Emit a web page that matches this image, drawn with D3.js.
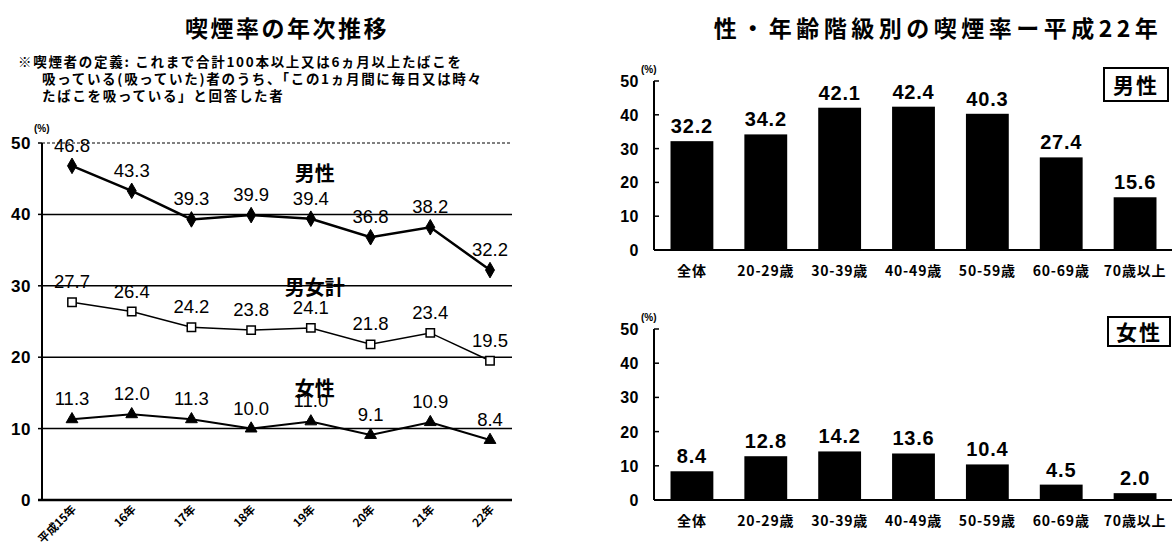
<!DOCTYPE html>
<html>
<head>
<meta charset="utf-8">
<script src="https://cdn.jsdelivr.net/npm/d3@7"></script>
<style>
  body { margin: 0; background: #fff; }
  svg { display: block; font-family: "Noto Sans CJK JP", "Liberation Sans", sans-serif; }
  .num { font-family: "Liberation Sans", Arial, sans-serif; }
</style>
</head>
<body>
<svg id="chart" width="1172" height="552"></svg>
<script>
// ---- data ----
const years = ["平成15年", "16年", "17年", "18年", "19年", "20年", "21年", "22年"];
const male = [46.8, 43.3, 39.3, 39.9, 39.4, 36.8, 38.2, 32.2];
const total = [27.7, 26.4, 24.2, 23.8, 24.1, 21.8, 23.4, 19.5];
const female = [11.3, 12.0, 11.3, 10.0, 11.0, 9.1, 10.9, 8.4];
const ageGroups = ["全体", "20-29歳", "30-39歳", "40-49歳", "50-59歳", "60-69歳", "70歳以上"];
const maleByAge = [32.2, 34.2, 42.1, 42.4, 40.3, 27.4, 15.6];
const femaleByAge = [8.4, 12.8, 14.2, 13.6, 10.4, 4.5, 2.0];
const yTicks = [0, 10, 20, 30, 40, 50];

const svg = d3.select("#chart");

// ---- left: trend chart ----
const xL = d3.scalePoint().domain(years).range([72, 490]);
const yL = d3.scaleLinear().domain([0, 50]).range([500, 143]);
const leftX0 = 42, leftX1 = 512;

svg.append("text")
    .attr("x", 287).attr("y", 37)
    .attr("text-anchor", "middle")
    .attr("font-size", 23).attr("font-weight", "bold")
    .attr("letter-spacing", 2.5)
    .text("喫煙率の年次推移");

const note = [
    { x: 18, y: 67, t: "※喫煙者の定義: これまで合計100本以上又は6ヵ月以上たばこを" },
    { x: 42, y: 84, t: "吸っている(吸っていた)者のうち、「この1ヵ月間に毎日又は時々" },
    { x: 42, y: 101, t: "たばこを吸っている」と回答した者" }
];
note.forEach(n => {
    svg.append("text")
        .attr("x", n.x).attr("y", n.y)
        .attr("font-size", 13.5).attr("font-weight", "bold")
        .attr("letter-spacing", 1.7)
        .text(n.t);
});

// grid lines
yTicks.filter(d => d > 0 && d < 50).forEach(d => {
    svg.append("line")
        .attr("x1", leftX0).attr("x2", leftX1)
        .attr("y1", yL(d)).attr("y2", yL(d))
        .attr("stroke", "#000").attr("stroke-width", 1.5);
});
svg.append("line")
    .attr("x1", leftX0).attr("x2", leftX1)
    .attr("y1", yL(50)).attr("y2", yL(50))
    .attr("stroke", "#000").attr("stroke-width", 1)
    .attr("stroke-dasharray", "3,2");

// axes
svg.append("line")
    .attr("x1", leftX0).attr("x2", leftX0)
    .attr("y1", yL(50)).attr("y2", yL(0))
    .attr("stroke", "#000").attr("stroke-width", 2);
svg.append("line")
    .attr("x1", leftX0 - 4).attr("x2", leftX1)
    .attr("y1", yL(0)).attr("y2", yL(0))
    .attr("stroke", "#000").attr("stroke-width", 2.5);

yTicks.forEach(d => {
    svg.append("line")
        .attr("x1", leftX0 - 4).attr("x2", leftX0)
        .attr("y1", yL(d)).attr("y2", yL(d))
        .attr("stroke", "#000").attr("stroke-width", 1.5);
    svg.append("text")
        .attr("class", "num")
        .attr("x", 31).attr("y", yL(d) + 6)
        .attr("text-anchor", "end")
        .attr("font-size", 17).attr("font-weight", "bold")
        .attr("letter-spacing", 0.5)
        .text(d);
});
svg.append("text")
    .attr("class", "num")
    .attr("x", 34).attr("y", 132)
    .attr("font-size", 10).attr("font-weight", "bold")
    .text("(%)");

// x labels, rotated
years.forEach(d => {
    svg.append("text")
        .attr("transform", `translate(${xL(d) + 5},${yL(0) + 10}) rotate(-45)`)
        .attr("text-anchor", "end")
        .attr("font-size", 11.5).attr("font-weight", "bold")
        .text(d);
});

const series = [
    { name: "男性", values: male, width: 2.5, marker: "diamond", labelY: 44.7 },
    { name: "男女計", values: total, width: 1.5, marker: "square", labelY: 28.7 },
    { name: "女性", values: female, width: 2, marker: "triangle", labelY: 14.6 }
];

series.forEach(s => {
    const line = d3.line()
        .x((d, i) => xL(years[i]))
        .y(d => yL(d));
    svg.append("path")
        .datum(s.values)
        .attr("d", line)
        .attr("fill", "none")
        .attr("stroke", "#000")
        .attr("stroke-width", s.width);

    const sym = s.marker === "diamond" ? d3.symbolDiamond
        : s.marker === "square" ? d3.symbolSquare : d3.symbolTriangle;
    const size = s.marker === "triangle" ? 60 : 70;

    svg.append("g").selectAll("path")
        .data(s.values)
        .join("path")
        .attr("transform", (d, i) => `translate(${xL(years[i])},${yL(d)})`)
        .attr("d", d3.symbol().type(sym).size(size))
        .attr("fill", s.marker === "square" ? "#fff" : "#000")
        .attr("stroke", "#000")
        .attr("stroke-width", s.marker === "square" ? 1.5 : 1);

    svg.append("g").selectAll("text")
        .data(s.values)
        .join("text")
        .attr("class", "num")
        .attr("x", (d, i) => xL(years[i]))
        .attr("y", d => yL(d) - 14)
        .attr("text-anchor", "middle")
        .attr("font-size", 18.5)
        .text(d => d.toFixed(1));

    svg.append("text")
        .attr("x", xL("19年") + 4)
        .attr("y", yL(s.labelY))
        .attr("text-anchor", "middle")
        .attr("font-size", 20).attr("font-weight", "bold")
        .text(s.name);
});

// ---- right: bar charts ----
svg.append("text")
    .attr("x", 938).attr("y", 37)
    .attr("text-anchor", "middle")
    .attr("font-size", 23).attr("font-weight", "bold")
    .attr("letter-spacing", 4.5)
    .text("性・年齢階級別の喫煙率ー平成22年");

const xB = d3.scaleBand().domain(ageGroups)
    .range([655, 1172]).paddingInner(0.42).paddingOuter(0.21);

function barChart(values, top, bottom, tag, box) {
    const y = d3.scaleLinear().domain([0, 50]).range([bottom, top]);
    const g = svg.append("g");
    const ax = 654;

    g.append("line")
        .attr("x1", ax).attr("x2", ax)
        .attr("y1", y(50)).attr("y2", y(0))
        .attr("stroke", "#000").attr("stroke-width", 2);
    g.append("line")
        .attr("x1", ax).attr("x2", 1172)
        .attr("y1", y(0)).attr("y2", y(0))
        .attr("stroke", "#000").attr("stroke-width", 2);

    yTicks.forEach(d => {
        g.append("line")
            .attr("x1", ax).attr("x2", ax + 5)
            .attr("y1", y(d)).attr("y2", y(d))
            .attr("stroke", "#000").attr("stroke-width", 1.5);
        g.append("text")
            .attr("class", "num")
            .attr("x", 639).attr("y", y(d) + 6)
            .attr("text-anchor", "end")
            .attr("font-size", 16).attr("font-weight", "bold")
            .attr("letter-spacing", 0.5)
            .text(d);
    });
    g.append("text")
        .attr("class", "num")
        .attr("x", 641).attr("y", y(50) - 8)
        .attr("font-size", 10).attr("font-weight", "bold")
        .text("(%)");

    g.selectAll("rect")
        .data(values)
        .join("rect")
        .attr("x", (d, i) => xB(ageGroups[i]))
        .attr("y", d => y(d))
        .attr("width", xB.bandwidth())
        .attr("height", d => y(0) - y(d))
        .attr("fill", "#000");

    g.selectAll("text.val")
        .data(values)
        .join("text")
        .attr("class", "val num")
        .attr("x", (d, i) => xB(ageGroups[i]) + xB.bandwidth() / 2)
        .attr("y", d => y(d) - 8)
        .attr("text-anchor", "middle")
        .attr("font-size", 20).attr("font-weight", "bold")
        .attr("letter-spacing", 0.8)
        .text(d => d.toFixed(1));

    ageGroups.forEach(a => {
        g.append("text")
            .attr("x", xB(a) + xB.bandwidth() / 2)
            .attr("y", y(0) + 26)
            .attr("text-anchor", "middle")
            .attr("font-size", 14).attr("font-weight", "bold")
            .attr("letter-spacing", 0.8)
            .text(a);
    });

    g.append("rect")
        .attr("x", box[0]).attr("y", box[1])
        .attr("width", box[2]).attr("height", box[3])
        .attr("fill", "#fff").attr("stroke", "#000").attr("stroke-width", 2);
    g.append("text")
        .attr("x", box[0] + box[2] / 2).attr("y", box[1] + box[3] / 2 + 8)
        .attr("text-anchor", "middle")
        .attr("font-size", 21).attr("font-weight", "bold")
        .attr("letter-spacing", 2)
        .text(tag);
}

barChart(maleByAge, 81, 250, "男性", [1104, 68, 64, 33]);
barChart(femaleByAge, 329, 500, "女性", [1108, 317, 62, 29]);
</script>
</body>
</html>
